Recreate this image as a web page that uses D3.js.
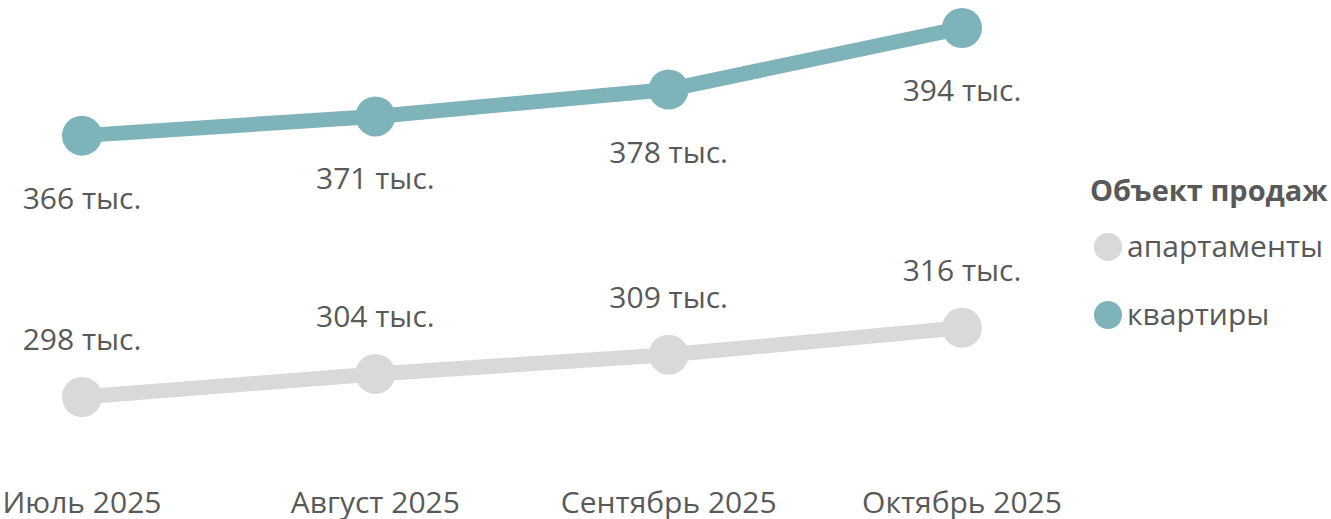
<!DOCTYPE html>
<html>
  <head>
    <meta charset="utf-8" />
    <title>Объект продаж</title>
    <script src="https://d3js.org/d3.v7.min.js"></script>
    <style>
        body{
            margin: 0;
            background: #fff;
        }
        text{
            font-family: "Open Sans", "Noto Sans", sans-serif;
            fill: #595959;
        }
    </style>
  </head>
  <body>
    <svg id="vis"></svg>
    <script>
        var months = ["Июль 2025", "Август 2025", "Сентябрь 2025", "Октябрь 2025"];
        var kvartiry = [366, 371, 378, 394];
        var apartamenty = [298, 304, 309, 316];
        var seriesNames = ["апартаменты", "квартиры"];
        var seriesColors = ["#d9d9d9", "#7fb3ba"];

        var width = 1331, height = 519;
        var svg = d3.select("#vis").attr("width", width).attr("height", height);

        var x = d3.scalePoint().domain(months).range([82, 962]);
        var y = d3.scaleLinear().domain([298, 394]).range([397, 28]);

        var series = [
            {name: seriesNames[0], values: apartamenty, color: seriesColors[0], dy: -47},
            {name: seriesNames[1], values: kvartiry, color: seriesColors[1], dy: 73}
        ];

        var line = d3.line()
            .x(function(d, i) { return x(months[i]); })
            .y(function(d) { return y(d); });

        var g = svg.selectAll("g.series").data(series).enter().append("g").attr("class", "series");

        g.append("path")
            .attr("d", function(d) { return line(d.values); })
            .attr("fill", "none")
            .attr("stroke", function(d) { return d.color; })
            .attr("stroke-width", 15);

        g.selectAll("circle")
            .data(function(d) { return d.values.map(function(v) { return {v: v, s: d}; }); })
            .enter().append("circle")
            .attr("cx", function(d, i) { return x(months[i]); })
            .attr("cy", function(d) { return y(d.v); })
            .attr("r", 20)
            .attr("fill", function(d) { return d.s.color; });

        g.selectAll("text.lbl")
            .data(function(d) { return d.values.map(function(v) { return {v: v, s: d}; }); })
            .enter().append("text")
            .attr("class", "lbl")
            .attr("x", function(d, i) { return x(months[i]); })
            .attr("y", function(d) { return y(d.v) + d.s.dy; })
            .attr("text-anchor", "middle")
            .attr("font-size", 30)
            .text(function(d) { return d.v + " тыс."; });

        // x axis labels
        svg.selectAll("text.month").data(months).enter().append("text")
            .attr("class", "month")
            .attr("x", function(d) { return x(d); })
            .attr("y", 513)
            .attr("text-anchor", "middle")
            .attr("font-size", 30)
            .text(function(d) { return d; });

        // legend
        var legend = svg.append("g").attr("transform", "translate(1090,0)");
        legend.append("text")
            .attr("x", 0).attr("y", 201)
            .attr("font-size", 29)
            .attr("font-weight", "bold")
            .text("Объект продаж");
        var items = legend.selectAll("g.item").data(series).enter().append("g")
            .attr("transform", function(d, i) { return "translate(0," + (247 + i * 68) + ")"; });
        items.append("circle").attr("cx", 18).attr("cy", 0).attr("r", 14)
            .attr("fill", function(d) { return d.color; });
        items.append("text").attr("x", 37).attr("y", 10)
            .attr("font-size", 30)
            .text(function(d) { return d.name; });
    </script>
  </body>
</html>
